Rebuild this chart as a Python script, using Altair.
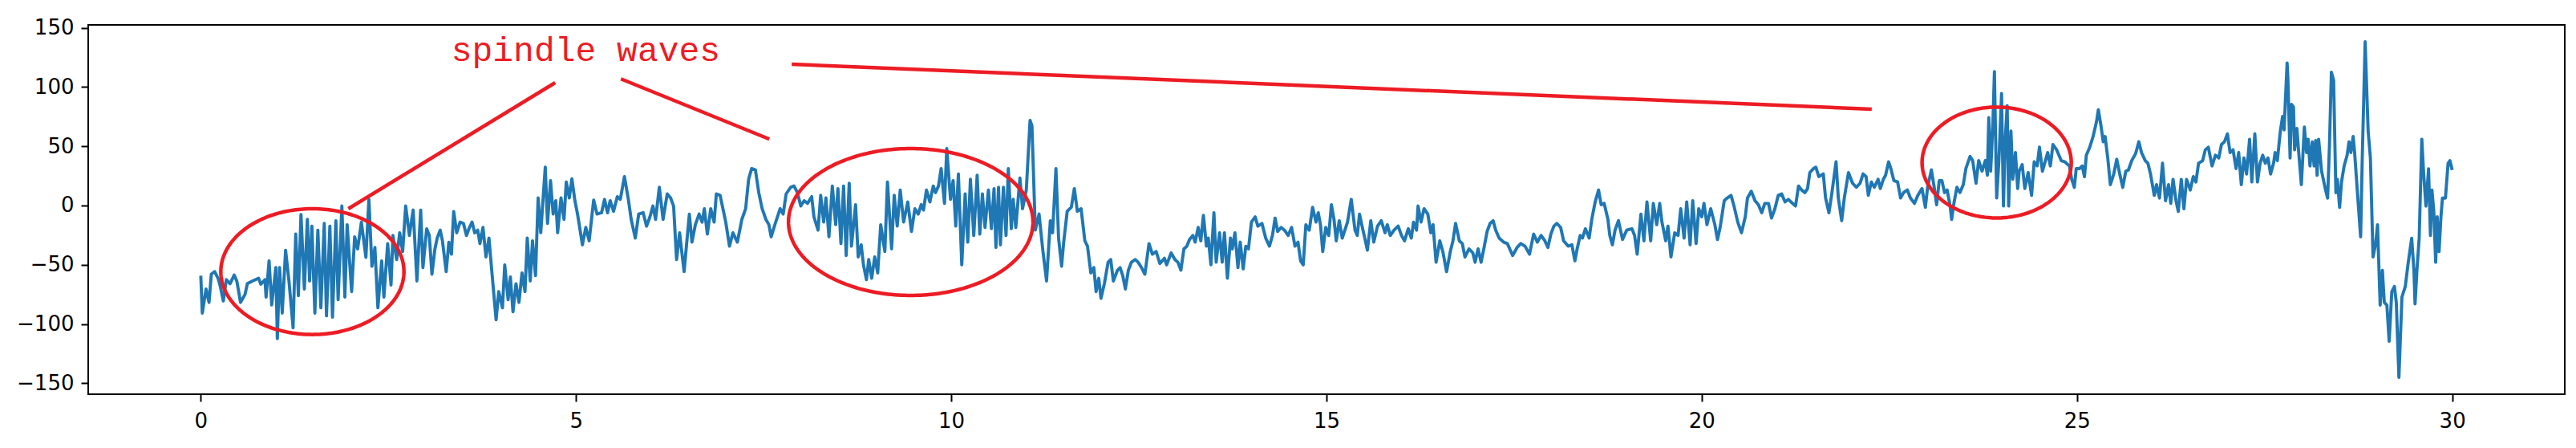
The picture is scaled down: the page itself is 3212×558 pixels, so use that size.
import altair as alt
import numpy as np
import pandas as pd

# ---- EEG trace (time in s, amplitude), per region ----
seg1 = [(0.00,-59.2),(0.02,-90.8),(0.07,-70.5),(0.11,-81.8),(0.14,-58.0),(0.185,-55.8),(0.23,-61.4),(0.26,-68.2),(0.30,-80.6),(0.34,-62.6),(0.39,-66.0),(0.445,-58.7),(0.48,-63.7),(0.53,-81.8),(0.59,-75.0),(0.62,-66.0),(0.69,-63.7),(0.77,-61.4),(0.80,-66.4),(0.855,-62.6),(0.87,-77.3),(0.91,-46.7),(0.945,-84.0),(1.00,-52.4),(1.02,-112.3),(1.05,-52.4),(1.085,-90.8),(1.13,-37.7),(1.175,-63.7),(1.23,-103.2),(1.265,-24.1),(1.30,-76.1),(1.335,-7.6),(1.38,-70.5),(1.42,-11.7),(1.45,-63.7),(1.48,-17.4),(1.52,-90.8),(1.56,-20.8),(1.60,-86.3),(1.645,-15.1),(1.675,-93.1),(1.72,-17.4),(1.755,-94.2),(1.80,-12.8),(1.83,-79.5),(1.88,-0.4),(1.92,-77.3),(1.95,-16.2),(2.01,-72.7),(2.05,-26.4),(2.09,-36.6),(2.14,-14.0),(2.20,-43.8),(2.24,5.2),(2.28,-51.3),(2.32,-35.4),(2.36,-86.3),(2.41,-46.7),(2.44,-77.3),(2.49,-32.1),(2.535,-67.1),(2.56,-25.3),(2.61,-45.6),(2.65,-23.0),(2.69,-38.8),(2.73,-0.4),(2.78,-25.3),(2.83,-3.8),(2.88,-63.7)]
seg2 = [(2.93,-3.8),(2.96,-52.4),(3.01,-19.6),(3.045,-25.3),(3.08,-58.0),(3.12,-36.6),(3.15,-27.5),(3.19,-20.8),(3.22,-29.8),(3.27,-55.8),(3.305,-31.0),(3.34,-41.1),(3.37,-5.0),(3.41,-23.0),(3.455,-14.0),(3.50,-15.1),(3.54,-25.3),(3.58,-18.5),(3.615,-14.0),(3.65,-23.0),(3.69,-20.8),(3.72,-32.1),(3.76,-18.5),(3.80,-43.4),(3.84,-27.5),(3.88,-56.9),(3.935,-96.5),(3.97,-72.7),(4.02,-86.3),(4.05,-50.1),(4.095,-79.5),(4.125,-60.3),(4.16,-89.7),(4.20,-66.0),(4.24,-81.8),(4.28,-56.9),(4.32,-72.7),(4.35,-27.5),(4.39,-63.7),(4.42,-29.8),(4.46,-59.2),(4.495,6.4),(4.53,-23.0),(4.59,32.4),(4.62,-15.1),(4.66,21.0),(4.695,-7.2),(4.73,4.1),(4.755,-23.0),(4.80,6.4),(4.84,-11.7),(4.87,19.9),(4.91,6.4),(4.945,22.6),(4.985,4.1),(5.02,-7.2),(5.06,-23.0),(5.085,-33.2),(5.13,-18.5),(5.175,-29.8),(5.235,4.6),(5.28,-7.2),(5.34,-6.1),(5.38,5.2),(5.42,-6.1),(5.455,4.1),(5.50,-4.9),(5.55,7.5),(5.59,5.2),(5.645,24.4),(5.70,4.1),(5.735,-11.7),(5.79,-27.5),(5.835,-7.2),(5.895,-6.1),(5.94,-17.4),(5.985,-9.5)]
seg3 = [(6.025,-0.4),(6.06,-11.7),(6.11,15.4),(6.16,-11.7),(6.215,9.8),(6.26,6.4),(6.30,-0.4),(6.34,-45.6),(6.38,-23.0),(6.44,-55.8),(6.51,-7.2),(6.545,-30.9),(6.59,-16.2),(6.64,-7.2),(6.68,-14.0),(6.71,-2.7),(6.75,-24.1),(6.795,-2.7),(6.84,-14.0),(6.87,9.8),(6.92,8.6),(6.95,-0.4),(6.995,-14.0),(7.045,-34.3),(7.09,-23.0),(7.15,-30.9),(7.21,-11.7),(7.26,-2.7),(7.30,22.2),(7.34,31.2),(7.39,30.1),(7.435,10.9),(7.48,-2.7),(7.53,-11.7),(7.57,-16.2),(7.60,-26.4),(7.655,-15.1),(7.72,-2.7),(7.76,-7.2),(7.80,9.8),(7.86,15.4),(7.905,16.5),(7.95,10.9),(7.995,-0.4),(8.04,4.1),(8.085,1.8),(8.14,7.5),(8.17,-9.5),(8.225,-20.8),(8.26,8.6),(8.30,-14.0),(8.33,6.4),(8.37,-26.4),(8.415,16.5),(8.46,-16.2),(8.49,14.3),(8.53,-32.1),(8.565,16.5),(8.60,-42.2),(8.64,18.8),(8.67,-34.3),(8.725,0.7),(8.76,-43.4),(8.80,-33.2),(8.83,-50.1),(8.87,-62.6),(8.90,-45.6),(8.94,-61.4),(8.98,-43.4),(9.02,-56.9),(9.06,-16.2)]
seg4 = [(9.115,-38.8),(9.15,19.9),(9.205,-36.6),(9.24,8.6),(9.28,-17.4),(9.32,13.1),(9.365,-14.0),(9.42,3.0),(9.47,-21.9),(9.515,-2.7),(9.56,-7.2),(9.60,0.7),(9.63,-3.8),(9.67,13.1),(9.715,3.0),(9.76,16.5),(9.79,10.9),(9.83,16.5),(9.865,31.2),(9.91,1.8),(9.94,48.2),(9.99,5.2),(10.025,21.1),(10.06,-17.4),(10.095,26.7),(10.14,-50.1),(10.185,9.8),(10.22,-30.9),(10.255,22.2),(10.30,-25.3),(10.345,25.6),(10.38,-24.1),(10.415,9.8),(10.45,-18.5),(10.495,13.1),(10.535,-19.6),(10.57,14.3),(10.595,-35.4),(10.63,15.4),(10.655,-33.2),(10.695,15.4),(10.73,-25.3),(10.76,31.2),(10.80,-19.6),(10.825,5.2),(10.86,-18.5),(10.915,23.3),(10.95,-2.7),(11.00,13.1),(11.05,71.9),(11.075,67.4),(11.12,-20.8),(11.17,-7.2),(11.22,-37.7),(11.27,-63.7),(11.32,-12.8),(11.35,-23.0),(11.395,31.2),(11.43,-27.5),(11.47,-51.3),(11.50,-29.8),(11.545,-4.9),(11.60,-1.5),(11.64,14.3),(11.68,-4.9),(11.73,-2.7),(11.78,-29.8),(11.815,-34.3),(11.86,-56.9),(11.90,-52.4),(11.93,-72.7),(11.965,-61.4),(11.995,-78.4),(12.04,-66.0),(12.09,-47.9),(12.125,-45.6),(12.16,-63.7)]
seg5 = [(12.215,-54.6),(12.25,-52.4),(12.285,-59.2),(12.32,-70.5),(12.36,-54.6),(12.40,-47.9),(12.45,-45.6),(12.49,-47.9),(12.535,-52.4),(12.58,-58.0),(12.635,-32.1),(12.68,-41.1),(12.73,-38.8),(12.78,-49.0),(12.84,-44.5),(12.87,-50.1),(12.93,-40.0),(12.98,-45.6),(13.02,-47.9),(13.06,-54.6),(13.10,-36.6),(13.14,-34.3),(13.175,-28.7),(13.22,-25.3),(13.25,-30.9),(13.29,-18.5),(13.325,-29.8),(13.36,-8.3),(13.40,-34.3),(13.425,-27.5),(13.46,-50.1),(13.50,-6.1),(13.53,-47.9),(13.575,-23.0),(13.61,-47.9),(13.64,-23.0),(13.68,-61.4),(13.72,-27.5),(13.745,-36.6),(13.78,-23.0),(13.82,-52.4),(13.85,-30.9),(13.89,-53.5),(13.925,-34.3),(13.96,-36.6),(14.00,-14.0),(14.05,-9.5),(14.085,-17.4),(14.14,-15.1),(14.19,-27.5),(14.24,-34.3),(14.28,-25.3),(14.315,-10.6),(14.35,-21.9),(14.395,-18.5),(14.44,-20.8),(14.49,-25.3),(14.535,-18.5),(14.58,-34.3),(14.62,-30.9),(14.655,-46.7),(14.69,-50.1),(14.725,-16.2),(14.77,-20.8),(14.815,-1.5),(14.86,-14.0),(14.89,-6.1),(14.92,-16.2),(14.95,-38.8),(14.99,-18.5),(15.03,-25.3),(15.065,0.7),(15.10,-11.7),(15.13,-29.8),(15.17,-12.8),(15.21,-27.5)]
seg6 = [(15.28,-14.0),(15.33,5.2),(15.38,-20.8),(15.41,-25.3),(15.44,-7.2),(15.47,-16.2),(15.51,-27.5),(15.545,-37.7),(15.59,-12.8),(15.63,-30.9),(15.68,-17.4),(15.73,-12.8),(15.78,-23.0),(15.81,-16.2),(15.85,-25.3),(15.90,-20.8),(15.955,-17.4),(16.00,-25.3),(16.04,-29.8),(16.09,-19.6),(16.13,-27.5),(16.16,-14.0),(16.20,-20.8),(16.22,-0.4),(16.26,-14.0),(16.30,-2.7),(16.35,-7.2),(16.39,-23.0),(16.42,-16.2),(16.46,-47.9),(16.51,-29.8),(16.55,-38.8),(16.60,-55.8),(16.65,-38.8),(16.685,-29.8),(16.72,-15.1),(16.77,-29.8),(16.81,-32.1),(16.845,-43.4),(16.90,-36.6),(16.95,-40.0),(16.98,-47.9),(17.02,-36.6),(17.06,-47.9),(17.10,-35.4),(17.14,-21.9),(17.18,-15.1),(17.22,-12.8),(17.255,-20.8),(17.30,-27.5),(17.36,-30.9),(17.41,-32.1),(17.48,-42.2),(17.54,-35.4),(17.59,-32.1),(17.645,-34.3),(17.705,-41.1),(17.76,-24.1),(17.81,-30.9),(17.86,-25.3),(17.91,-29.8),(17.95,-35.4),(17.99,-24.1),(18.03,-17.4),(18.07,-15.1),(18.12,-18.5),(18.16,-29.8),(18.22,-34.3),(18.27,-33.2),(18.31,-46.7),(18.34,-36.6),(18.38,-25.3)]
seg7 = [(18.41,-27.5),(18.45,-19.6),(18.50,-27.5),(18.535,-11.7),(18.58,3.0),(18.625,13.1),(18.66,0.7),(18.70,1.8),(18.75,-11.7),(18.775,-25.3),(18.81,-33.2),(18.845,-20.8),(18.89,-12.8),(18.945,-28.7),(19.00,-20.8),(19.07,-19.6),(19.105,-25.3),(19.14,-41.1),(19.19,-7.2),(19.23,-29.8),(19.27,3.0),(19.32,-29.8),(19.355,1.8),(19.40,-16.2),(19.44,1.8),(19.47,-14.0),(19.52,-29.8),(19.55,-17.4),(19.59,-43.4),(19.64,-23.0),(19.685,-25.3),(19.72,-2.7),(19.765,-27.5),(19.80,3.0),(19.845,-33.2),(19.88,4.1),(19.925,-32.1),(19.96,-2.7),(20.00,-9.5),(20.03,1.8),(20.07,-16.2),(20.12,-2.7),(20.175,-16.2),(20.21,-28.7),(20.245,-18.5),(20.30,4.1),(20.34,6.4),(20.39,8.6),(20.43,-0.4),(20.48,-14.0),(20.53,-23.0),(20.58,-9.5),(20.61,6.4),(20.66,12.0),(20.71,4.1),(20.755,0.7),(20.80,-6.1),(20.84,1.8),(20.89,1.8),(20.93,-10.6),(20.975,-2.7),(21.02,8.6),(21.065,9.8),(21.11,3.0),(21.155,5.2),(21.21,1.8),(21.25,-0.4),(21.29,16.5),(21.33,13.1),(21.375,10.9),(21.41,14.3),(21.44,27.8),(21.49,31.2)]
seg8 = [(21.52,32.4),(21.56,24.4),(21.62,26.7),(21.65,6.4),(21.695,-6.1),(21.73,8.6),(21.79,36.9),(21.82,6.4),(21.865,-12.8),(21.90,6.4),(21.955,27.8),(22.01,18.8),(22.06,15.4),(22.11,18.8),(22.15,26.7),(22.19,24.4),(22.22,8.6),(22.26,19.9),(22.30,15.4),(22.35,22.2),(22.38,14.3),(22.42,22.2),(22.45,25.6),(22.49,36.9),(22.52,31.2),(22.56,21.1),(22.61,19.9),(22.65,6.4),(22.69,10.9),(22.74,13.1),(22.78,6.4),(22.835,1.8),(22.88,8.6),(22.935,14.3),(22.98,-1.5),(23.01,15.4),(23.06,30.1),(23.095,16.5),(23.13,0.7),(23.165,21.1),(23.20,21.1),(23.235,10.9),(23.27,13.1),(23.31,-0.4),(23.33,-11.7),(23.36,1.8),(23.40,15.4),(23.44,10.9),(23.485,17.6),(23.52,31.2),(23.575,41.4),(23.61,38.0),(23.655,18.8),(23.69,38.0),(23.735,29.0),(23.78,38.0),(23.806,25.6),(23.825,74.2),(23.85,29.0),(23.88,69.7),(23.90,113.0),(23.93,6.4),(23.96,38.0),(23.995,94.5),(24.02,-0.4),(24.045,56.1),(24.07,84.3),(24.09,-0.4),(24.12,62.9),(24.145,22.2),(24.18,44.8),(24.21,14.3),(24.23,29.0),(24.27,34.6),(24.305,14.3),(24.35,27.8),(24.395,8.6),(24.43,36.9),(24.47,33.5),(24.50,49.3),(24.54,29.0)]
seg9 = [(24.61,44.7),(24.645,33.4),(24.68,51.5),(24.73,47.0),(24.79,37.9),(24.84,36.8),(24.90,33.4),(24.93,22.1),(24.965,15.3),(24.99,31.2),(25.035,31.2),(25.07,33.4),(25.10,24.4),(25.125,42.5),(25.17,49.2),(25.215,58.3),(25.26,70.7),(25.285,80.9),(25.32,67.3),(25.35,53.8),(25.375,58.3),(25.41,40.2),(25.445,17.6),(25.49,26.6),(25.53,39.1),(25.57,26.6),(25.61,15.3),(25.65,28.9),(25.685,30.0),(25.73,37.9),(25.78,43.6),(25.825,53.8),(25.86,44.7),(25.91,37.9),(25.945,35.7),(25.98,26.6),(26.03,8.6),(26.06,17.6),(26.10,6.3),(26.14,35.7),(26.18,4.0),(26.22,17.6),(26.25,1.8),(26.28,22.1),(26.32,4.0),(26.35,-5.0),(26.39,22.1),(26.425,-2.7),(26.46,22.1),(26.51,13.1),(26.55,24.4),(26.585,19.9),(26.62,35.7),(26.675,37.9),(26.71,47.0),(26.75,49.2),(26.80,33.4),(26.845,42.5),(26.89,40.2),(26.925,51.5),(26.965,53.8),(27.005,60.5),(27.04,44.7),(27.08,47.0),(27.12,31.2),(27.155,44.7),(27.19,17.6),(27.225,40.2),(27.26,26.6),(27.30,56.0),(27.33,19.9),(27.37,60.5),(27.405,19.9),(27.44,35.7),(27.475,42.5),(27.51,35.7),(27.545,40.2),(27.58,26.6),(27.62,35.7),(27.64,44.7)]
seg10 = [(27.67,37.9),(27.71,62.8),(27.74,75.2),(27.76,63.9),(27.80,120.4),(27.81,108.0),(27.84,40.2),(27.86,85.4),(27.885,83.1),(27.90,47.0),(27.93,65.1),(27.955,44.7),(27.99,17.6),(28.03,66.2),(28.06,44.7),(28.08,56.0),(28.105,33.4),(28.135,53.8),(28.16,33.4),(28.18,54.9),(28.20,25.5),(28.22,56.0),(28.26,28.9),(28.305,15.3),(28.34,6.3),(28.365,51.5),(28.39,112.5),(28.42,105.7),(28.45,10.8),(28.47,22.1),(28.50,-1.6),(28.525,19.9),(28.56,33.4),(28.60,42.5),(28.625,53.8),(28.65,44.7),(28.68,58.3),(28.70,44.7),(28.74,8.6),(28.78,-26.5),(28.80,35.7),(28.84,138.3),(28.88,62.8),(28.91,40.2),(28.945,-43.4),(28.98,-32.1),(29.005,-16.3),(29.04,-84.1),(29.07,-54.7),(29.095,-81.8),(29.13,-84.1),(29.16,-114.6),(29.195,-72.8),(29.23,-68.3),(29.255,-81.8),(29.29,-145.1),(29.33,-77.3),(29.375,-68.3),(29.41,-50.2),(29.435,-38.9),(29.46,-27.6),(29.49,-54.7),(29.505,-83.0),(29.53,-54.7),(29.56,-27.6),(29.595,56.0),(29.62,26.6),(29.65,-0.5),(29.685,31.1),(29.71,-25.3),(29.73,13.1),(29.755,-5.0),(29.78,-47.9),(29.80,-9.5),(29.825,-38.9),(29.85,-9.5),(29.87,6.3),(29.91,6.3),(29.945,35.7),(29.97,37.9),(30.00,30.0)]

# ---- annotations (data coordinates) ----
ellipse_t = [1.487, 9.46, 23.93]      # centres (time)
ellipse_v = [-55.8, -13.9, 36.3]      # centres (amplitude)
ellipse_rt = [1.22, 1.629, 0.994]     # half widths (s)
ellipse_rv = [53.1, 62.0, 46.8]       # half heights
pointer_t0 = [1.966, 5.598, 7.874]
pointer_v0 = [-2.7, 106.9, 119.3]
pointer_t1 = [4.722, 7.575, 22.265]
pointer_v1 = [103.7, 56.1, 81.4]
label_text = ["spindle waves"]
label_t = [5.13]
label_v = [130.8]

x_ticks = [0, 5, 10, 15, 20, 25, 30]
y_ticks = [-150, -100, -50, 0, 50, 100, 150]
x_domain = [-1.5, 31.5]
y_domain = [-159.3, 152.5]

RED = "#ED1C24"

segments = [seg1, seg2, seg3, seg4, seg5, seg6, seg7, seg8, seg9, seg10]
eeg = pd.DataFrame([p for s in segments for p in s], columns=["t", "v"])
eeg["i"] = range(len(eeg))

rows = []
ang = np.linspace(0, 2 * np.pi, 241)
for k in range(len(ellipse_t)):
    for j, a in enumerate(ang):
        rows.append({"e": k, "j": j,
                     "t": ellipse_t[k] + ellipse_rt[k] * np.cos(a),
                     "v": ellipse_v[k] + ellipse_rv[k] * np.sin(a)})
ell = pd.DataFrame(rows)

ptr = pd.DataFrame({"t0": pointer_t0, "v0": pointer_v0, "t1": pointer_t1, "v1": pointer_v1})
lab = pd.DataFrame({"txt": label_text, "t": label_t, "v": label_v})

xs = alt.Scale(domain=x_domain, nice=False, zero=False)
ys = alt.Scale(domain=y_domain, nice=False, zero=False)
xax = alt.Axis(values=x_ticks, format="d", title=None, labelPadding=11)
yax = alt.Axis(values=y_ticks, format="d", title=None, labelPadding=9,
               labelExpr="replace(datum.label, '-', '\u2212')")

line = alt.Chart(eeg).mark_line(color="#1f77b4", strokeWidth=3.9, strokeJoin="round").encode(
    x=alt.X("t:Q", scale=xs, axis=xax),
    y=alt.Y("v:Q", scale=ys, axis=yax),
    order="i:Q",
)

ellipses = alt.Chart(ell).mark_line(color=RED, strokeWidth=4.5).encode(
    x=alt.X("t:Q", scale=xs),
    y=alt.Y("v:Q", scale=ys),
    detail="e:N",
    order="j:Q",
)

pointers = alt.Chart(ptr).mark_rule(color=RED, strokeWidth=4.5).encode(
    x=alt.X("t0:Q", scale=xs), x2="t1:Q",
    y=alt.Y("v0:Q", scale=ys), y2="v1:Q",
)

label = alt.Chart(lab).mark_text(color=RED, font="Liberation Mono", fontSize=43,
                                 align="center", baseline="middle").encode(
    x=alt.X("t:Q", scale=xs),
    y=alt.Y("v:Q", scale=ys),
    text="txt:N",
)

chart = alt.layer(line, ellipses, pointers, label).properties(
    width=3088, height=460,
    autosize=alt.AutoSizeParams(type="none"),
    padding={"left": 102, "top": 23, "right": 6, "bottom": 59},
).configure_view(
    stroke="#000", strokeWidth=2
).configure_axis(
    domain=False, grid=False, ticks=True, tickColor="#000", tickWidth=2, tickSize=9,
    labelFont="DejaVu Sans", labelFontSize=26, labelColor="#000",
)

chart.save("out.html", embed_options={"renderer": "svg", "actions": False})
